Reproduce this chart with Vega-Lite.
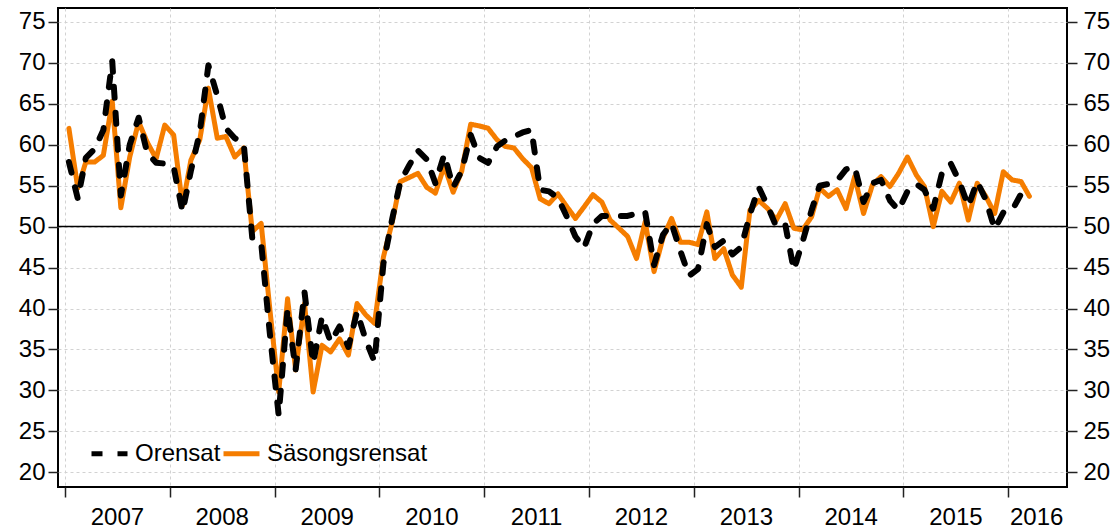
{
  "$schema": "https://vega.github.io/schema/vega-lite/v6.json",
  "autosize": "none",
  "padding": {"left": 58, "top": 8, "right": 52, "bottom": 41},
  "width": 1009,
  "height": 479,
  "config": {
    "view": {"stroke": "black", "strokeWidth": 2},
    "font": "Liberation Sans",
    "axis": {"labelFont": "Liberation Sans", "labelFontSize": 24, "labelColor": "#000000", "domain": false, "tickColor": "#222222", "tickWidth": 1.5, "tickSize": 10, "gridColor": "#d2d2d2", "gridDash": [3, 3], "gridWidth": 1, "title": null}
  },
  "data": {"values": [
    {"date": "2007-01-15", "Orensat": 57.9, "Säsongsrensat": 62.0},
    {"date": "2007-02-15", "Orensat": 53.4, "Säsongsrensat": 54.7},
    {"date": "2007-03-15", "Orensat": 58.4, "Säsongsrensat": 57.9},
    {"date": "2007-04-15", "Orensat": 59.5, "Säsongsrensat": 57.9},
    {"date": "2007-05-15", "Orensat": 61.8, "Säsongsrensat": 58.7},
    {"date": "2007-06-15", "Orensat": 70.2, "Säsongsrensat": 65.3},
    {"date": "2007-07-15", "Orensat": 53.8, "Säsongsrensat": 52.3},
    {"date": "2007-08-15", "Orensat": 60.0, "Säsongsrensat": 58.5},
    {"date": "2007-09-15", "Orensat": 63.3, "Säsongsrensat": 62.8},
    {"date": "2007-10-15", "Orensat": 59.0, "Säsongsrensat": 60.3},
    {"date": "2007-11-15", "Orensat": 57.8, "Säsongsrensat": 58.3},
    {"date": "2007-12-15", "Orensat": 57.7, "Säsongsrensat": 62.4},
    {"date": "2008-01-15", "Orensat": 57.3, "Säsongsrensat": 61.2},
    {"date": "2008-02-15", "Orensat": 51.8, "Säsongsrensat": 52.6},
    {"date": "2008-03-15", "Orensat": 56.8, "Säsongsrensat": 58.1},
    {"date": "2008-04-15", "Orensat": 61.5, "Säsongsrensat": 60.6},
    {"date": "2008-05-15", "Orensat": 69.7, "Säsongsrensat": 66.9},
    {"date": "2008-06-15", "Orensat": 66.0, "Säsongsrensat": 60.8},
    {"date": "2008-07-15", "Orensat": 62.0, "Säsongsrensat": 61.0},
    {"date": "2008-08-15", "Orensat": 60.8, "Säsongsrensat": 58.5},
    {"date": "2008-09-15", "Orensat": 60.2, "Säsongsrensat": 59.6},
    {"date": "2008-10-15", "Orensat": 48.6, "Säsongsrensat": 49.4},
    {"date": "2008-11-15", "Orensat": 48.0, "Säsongsrensat": 50.4},
    {"date": "2008-12-15", "Orensat": 37.0, "Säsongsrensat": 40.0},
    {"date": "2009-01-15", "Orensat": 27.0, "Säsongsrensat": 29.8},
    {"date": "2009-02-15", "Orensat": 40.0, "Säsongsrensat": 41.2},
    {"date": "2009-03-15", "Orensat": 32.5, "Säsongsrensat": 32.5},
    {"date": "2009-04-15", "Orensat": 42.0, "Säsongsrensat": 40.6},
    {"date": "2009-05-15", "Orensat": 33.3, "Säsongsrensat": 29.8},
    {"date": "2009-06-15", "Orensat": 39.0, "Säsongsrensat": 35.5},
    {"date": "2009-07-15", "Orensat": 35.9, "Säsongsrensat": 34.7},
    {"date": "2009-08-15", "Orensat": 37.8, "Säsongsrensat": 36.3},
    {"date": "2009-09-15", "Orensat": 35.3, "Säsongsrensat": 34.3},
    {"date": "2009-10-15", "Orensat": 39.6, "Säsongsrensat": 40.6},
    {"date": "2009-11-15", "Orensat": 36.1, "Säsongsrensat": 39.2},
    {"date": "2009-12-15", "Orensat": 33.5, "Säsongsrensat": 38.2},
    {"date": "2010-01-15", "Orensat": 45.5, "Säsongsrensat": 46.3},
    {"date": "2010-02-15", "Orensat": 51.0, "Säsongsrensat": 50.6},
    {"date": "2010-03-15", "Orensat": 55.5, "Säsongsrensat": 55.5},
    {"date": "2010-04-15", "Orensat": 57.5, "Säsongsrensat": 56.0},
    {"date": "2010-05-15", "Orensat": 59.3, "Säsongsrensat": 56.5},
    {"date": "2010-06-15", "Orensat": 58.2, "Säsongsrensat": 54.8},
    {"date": "2010-07-15", "Orensat": 55.3, "Säsongsrensat": 54.1},
    {"date": "2010-08-15", "Orensat": 58.8, "Säsongsrensat": 57.4},
    {"date": "2010-09-15", "Orensat": 54.8, "Säsongsrensat": 54.2},
    {"date": "2010-10-15", "Orensat": 56.8, "Säsongsrensat": 56.8},
    {"date": "2010-11-15", "Orensat": 61.2, "Säsongsrensat": 62.5},
    {"date": "2010-12-15", "Orensat": 58.4, "Säsongsrensat": 62.3},
    {"date": "2011-01-15", "Orensat": 57.8, "Säsongsrensat": 62.0},
    {"date": "2011-02-15", "Orensat": 59.8, "Säsongsrensat": 60.6},
    {"date": "2011-03-15", "Orensat": 60.5, "Säsongsrensat": 59.8},
    {"date": "2011-04-15", "Orensat": 61.0, "Säsongsrensat": 59.6},
    {"date": "2011-05-15", "Orensat": 61.5, "Säsongsrensat": 58.3},
    {"date": "2011-06-15", "Orensat": 61.8, "Säsongsrensat": 57.2},
    {"date": "2011-07-15", "Orensat": 54.5, "Säsongsrensat": 53.4},
    {"date": "2011-08-15", "Orensat": 54.3, "Säsongsrensat": 52.8},
    {"date": "2011-09-15", "Orensat": 53.5, "Säsongsrensat": 54.0},
    {"date": "2011-10-15", "Orensat": 51.3, "Säsongsrensat": 52.5},
    {"date": "2011-11-15", "Orensat": 48.8, "Säsongsrensat": 51.0},
    {"date": "2011-12-15", "Orensat": 47.4, "Säsongsrensat": 52.4},
    {"date": "2012-01-15", "Orensat": 50.3, "Säsongsrensat": 53.9},
    {"date": "2012-02-15", "Orensat": 51.3, "Säsongsrensat": 53.0},
    {"date": "2012-03-15", "Orensat": 51.3, "Säsongsrensat": 50.8},
    {"date": "2012-04-15", "Orensat": 51.3, "Säsongsrensat": 49.8},
    {"date": "2012-05-15", "Orensat": 51.3, "Säsongsrensat": 48.8},
    {"date": "2012-06-15", "Orensat": 51.6, "Säsongsrensat": 46.1},
    {"date": "2012-07-15", "Orensat": 51.8, "Säsongsrensat": 50.6},
    {"date": "2012-08-15", "Orensat": 45.3, "Säsongsrensat": 44.5},
    {"date": "2012-09-15", "Orensat": 49.0, "Säsongsrensat": 48.6},
    {"date": "2012-10-15", "Orensat": 50.4, "Säsongsrensat": 51.0},
    {"date": "2012-11-15", "Orensat": 47.0, "Säsongsrensat": 48.1},
    {"date": "2012-12-15", "Orensat": 44.0, "Säsongsrensat": 48.1},
    {"date": "2013-01-15", "Orensat": 44.8, "Säsongsrensat": 47.8},
    {"date": "2013-02-15", "Orensat": 50.3, "Säsongsrensat": 51.8},
    {"date": "2013-03-15", "Orensat": 47.5, "Säsongsrensat": 46.1},
    {"date": "2013-04-15", "Orensat": 48.3, "Säsongsrensat": 47.3},
    {"date": "2013-05-15", "Orensat": 46.6, "Säsongsrensat": 44.1},
    {"date": "2013-06-15", "Orensat": 47.5, "Säsongsrensat": 42.6},
    {"date": "2013-07-15", "Orensat": 51.5, "Säsongsrensat": 52.0},
    {"date": "2013-08-15", "Orensat": 54.8, "Säsongsrensat": 53.2},
    {"date": "2013-09-15", "Orensat": 52.5, "Säsongsrensat": 52.2},
    {"date": "2013-10-15", "Orensat": 50.0, "Säsongsrensat": 50.8},
    {"date": "2013-11-15", "Orensat": 50.3, "Säsongsrensat": 52.8},
    {"date": "2013-12-15", "Orensat": 44.7, "Säsongsrensat": 49.8},
    {"date": "2014-01-15", "Orensat": 48.2, "Säsongsrensat": 49.6},
    {"date": "2014-02-15", "Orensat": 52.0, "Säsongsrensat": 51.2},
    {"date": "2014-03-15", "Orensat": 55.0, "Säsongsrensat": 54.7},
    {"date": "2014-04-15", "Orensat": 55.2, "Säsongsrensat": 53.7},
    {"date": "2014-05-15", "Orensat": 55.6, "Säsongsrensat": 54.5},
    {"date": "2014-06-15", "Orensat": 57.0, "Säsongsrensat": 52.2},
    {"date": "2014-07-15", "Orensat": 57.3, "Säsongsrensat": 56.1},
    {"date": "2014-08-15", "Orensat": 53.0, "Säsongsrensat": 51.6},
    {"date": "2014-09-15", "Orensat": 55.3, "Säsongsrensat": 55.1},
    {"date": "2014-10-15", "Orensat": 55.7, "Säsongsrensat": 56.1},
    {"date": "2014-11-15", "Orensat": 53.2, "Säsongsrensat": 54.9},
    {"date": "2014-12-15", "Orensat": 52.0, "Säsongsrensat": 56.5},
    {"date": "2015-01-15", "Orensat": 54.3, "Säsongsrensat": 58.5},
    {"date": "2015-02-15", "Orensat": 55.2, "Säsongsrensat": 56.3},
    {"date": "2015-03-15", "Orensat": 54.5, "Säsongsrensat": 54.9},
    {"date": "2015-04-15", "Orensat": 52.2, "Säsongsrensat": 50.0},
    {"date": "2015-05-15", "Orensat": 56.5, "Säsongsrensat": 54.3},
    {"date": "2015-06-15", "Orensat": 57.7, "Säsongsrensat": 53.0},
    {"date": "2015-07-15", "Orensat": 55.5, "Säsongsrensat": 55.3},
    {"date": "2015-08-15", "Orensat": 52.5, "Säsongsrensat": 50.8},
    {"date": "2015-09-15", "Orensat": 55.5, "Säsongsrensat": 55.3},
    {"date": "2015-10-15", "Orensat": 53.3, "Säsongsrensat": 53.7},
    {"date": "2015-11-15", "Orensat": 49.7, "Säsongsrensat": 51.6},
    {"date": "2015-12-15", "Orensat": 51.7, "Säsongsrensat": 56.7},
    {"date": "2016-01-15", "Orensat": 52.0, "Säsongsrensat": 55.7},
    {"date": "2016-02-15", "Orensat": 54.0, "Säsongsrensat": 55.5},
    {"date": "2016-03-15", "Orensat": 54.2, "Säsongsrensat": 53.7}
  ]},
  "layer": [
    {
      "data": {"values": [{"level": 50}]},
      "mark": {"type": "rule", "color": "#000000", "strokeWidth": 1.5},
      "encoding": {
        "y": {"field": "level", "type": "quantitative", "scale": {"domain": [18.2, 76.7], "nice": false, "zero": false}, "axis": null}
      }
    },
    {
      "transform": [{"fold": ["Orensat", "Säsongsrensat"], "as": ["series", "value"]}, {"filter": "datum.series == 'Säsongsrensat'"}],
      "mark": {"type": "line", "strokeJoin": "round", "strokeCap": "round", "strokeWidth": 5},
      "encoding": {
        "x": {"field": "date", "type": "temporal",
              "scale": {"type": "utc", "domain": [{"year": 2006, "month": 12, "date": 8, "utc": true}, {"year": 2016, "month": 7, "date": 24, "utc": true}]},
              "axis": {"values": [{"year": 2007, "month": 1, "date": 1, "utc": true}, {"year": 2008, "month": 1, "date": 1, "utc": true}, {"year": 2009, "month": 1, "date": 1, "utc": true}, {"year": 2010, "month": 1, "date": 1, "utc": true}, {"year": 2011, "month": 1, "date": 1, "utc": true}, {"year": 2012, "month": 1, "date": 1, "utc": true}, {"year": 2013, "month": 1, "date": 1, "utc": true}, {"year": 2014, "month": 1, "date": 1, "utc": true}, {"year": 2015, "month": 1, "date": 1, "utc": true}, {"year": 2016, "month": 1, "date": 1, "utc": true}],
                       "labelExpr": "utcFormat(datum.value, '%Y')", "labelOffset": {"condition": {"test": "utcyear(datum.value) == 2016", "value": 28}, "value": 52}, "labelPadding": 8, "grid": true, "labelFlush": false, "labelOverlap": false}},
        "y": {"field": "value", "type": "quantitative", "scale": {"domain": [18.2, 76.7], "nice": false, "zero": false},
              "axis": {"orient": "left", "values": [20, 25, 30, 35, 40, 45, 50, 55, 60, 65, 70, 75], "grid": true, "labelPadding": 3}},
        "color": {"field": "series", "type": "nominal", "scale": {"domain": ["Orensat", "Säsongsrensat"], "range": ["#000000", "#f57d00"]},
                  "legend": {"title": null, "orient": "none", "legendX": 31, "legendY": 425, "direction": "horizontal", "columnPadding": -10, "labelOffset": 5, "labelLimit": 0, "symbolType": "stroke", "symbolSize": 1296, "symbolStrokeWidth": 5, "padding": 0, "labelFont": "Liberation Sans", "labelFontSize": 24, "labelColor": "#000000"}},
        "strokeDash": {"field": "series", "type": "nominal", "scale": {"domain": ["Orensat", "Säsongsrensat"], "range": [[11, 15], [1, 0]]},
                  "legend": {"title": null, "orient": "none", "legendX": 31, "legendY": 425, "direction": "horizontal", "columnPadding": -10, "labelOffset": 5, "labelLimit": 0, "symbolType": "stroke", "symbolSize": 1296, "symbolStrokeWidth": 5, "padding": 0, "labelFont": "Liberation Sans", "labelFontSize": 24, "labelColor": "#000000"}}
      }
    },
    {
      "transform": [{"fold": ["Orensat", "Säsongsrensat"], "as": ["series", "value"]}, {"filter": "datum.series == 'Orensat'"}],
      "mark": {"type": "line", "strokeJoin": "round", "strokeCap": "round", "strokeWidth": 6},
      "encoding": {
        "x": {"field": "date", "type": "temporal",
              "scale": {"type": "utc", "domain": [{"year": 2006, "month": 12, "date": 8, "utc": true}, {"year": 2016, "month": 7, "date": 24, "utc": true}]},
              "axis": {"values": [{"year": 2007, "month": 1, "date": 1, "utc": true}, {"year": 2008, "month": 1, "date": 1, "utc": true}, {"year": 2009, "month": 1, "date": 1, "utc": true}, {"year": 2010, "month": 1, "date": 1, "utc": true}, {"year": 2011, "month": 1, "date": 1, "utc": true}, {"year": 2012, "month": 1, "date": 1, "utc": true}, {"year": 2013, "month": 1, "date": 1, "utc": true}, {"year": 2014, "month": 1, "date": 1, "utc": true}, {"year": 2015, "month": 1, "date": 1, "utc": true}, {"year": 2016, "month": 1, "date": 1, "utc": true}],
                       "labelExpr": "utcFormat(datum.value, '%Y')", "labelOffset": {"condition": {"test": "utcyear(datum.value) == 2016", "value": 28}, "value": 52}, "labelPadding": 8, "grid": true, "labelFlush": false, "labelOverlap": false}},
        "y": {"field": "value", "type": "quantitative", "scale": {"domain": [18.2, 76.7], "nice": false, "zero": false},
              "axis": {"orient": "right", "values": [20, 25, 30, 35, 40, 45, 50, 55, 60, 65, 70, 75], "grid": false, "labelPadding": 6}},
        "color": {"field": "series", "type": "nominal", "scale": {"domain": ["Orensat", "Säsongsrensat"], "range": ["#000000", "#f57d00"]},
                  "legend": {"title": null, "orient": "none", "legendX": 31, "legendY": 425, "direction": "horizontal", "columnPadding": -10, "labelOffset": 5, "labelLimit": 0, "symbolType": "stroke", "symbolSize": 1296, "symbolStrokeWidth": 5, "padding": 0, "labelFont": "Liberation Sans", "labelFontSize": 24, "labelColor": "#000000"}},
        "strokeDash": {"field": "series", "type": "nominal", "scale": {"domain": ["Orensat", "Säsongsrensat"], "range": [[11, 15], [1, 0]]},
                  "legend": {"title": null, "orient": "none", "legendX": 31, "legendY": 425, "direction": "horizontal", "columnPadding": -10, "labelOffset": 5, "labelLimit": 0, "symbolType": "stroke", "symbolSize": 1296, "symbolStrokeWidth": 5, "padding": 0, "labelFont": "Liberation Sans", "labelFontSize": 24, "labelColor": "#000000"}}
      }
    }
  ],
  "resolve": {"axis": {"y": "independent"}}
}
